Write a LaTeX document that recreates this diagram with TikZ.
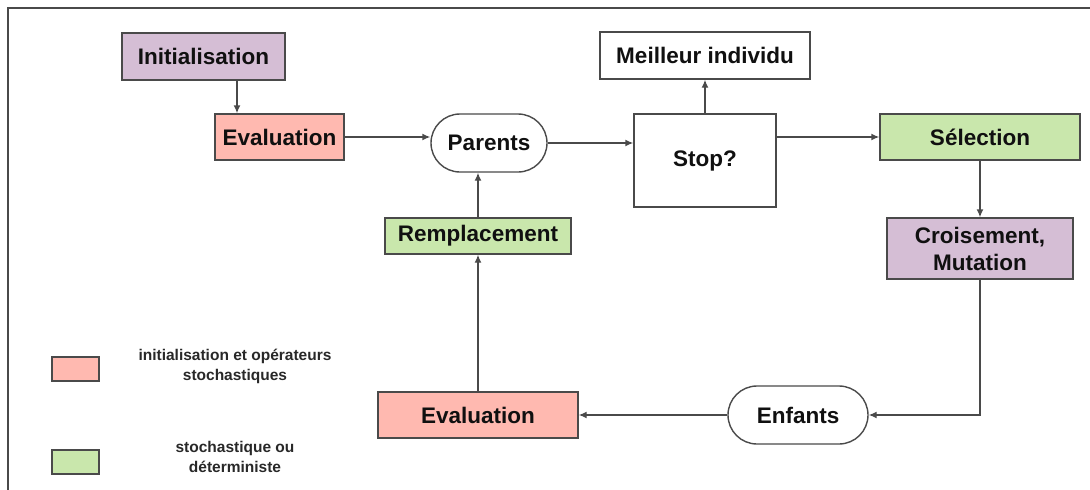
\documentclass[tikz,border=0pt]{standalone}
\usepackage{fontspec}
\setmainfont{Liberation Sans}
\usetikzlibrary{arrows.meta,shapes.misc}
\definecolor{lilac}{HTML}{D5BED5}
\definecolor{salmon}{HTML}{FFB9B0}
\definecolor{mint}{HTML}{C9E7AC}
\definecolor{edge}{HTML}{4A4A4A}
\definecolor{ink}{HTML}{101010}
\tikzset{
  box/.style={draw=edge, line width=1.4pt, rectangle, inner sep=0pt,
    text=ink, font=\fontsize{22.5}{27}\selectfont\bfseries, align=center},
  pill/.style={box, rounded rectangle},
  arr/.style={draw=edge, line width=1.4pt, -{Latex[length=8pt,width=7pt]}},
  legtext/.style={text=ink!90, font=\fontsize{15.5}{20}\selectfont\bfseries, align=center}
}
\begin{document}
\begin{tikzpicture}[x=1pt, y=-1pt]
\useasboundingbox (0,0) rectangle (1090,490);
% outer frame (top and left edges only)
\draw[edge, line width=1.2pt] (8,490) -- (8,8) -- (1090,8);

% main flow
\node[box, fill=lilac, minimum width=163pt, minimum height=47pt] (init) at (203.5,56.5) {Initialisation};
\node[box, fill=salmon, minimum width=129pt, minimum height=46pt] (evalA) at (279.5,137) {Evaluation};
\node[pill, fill=white, minimum width=116pt, minimum height=58pt] (parents) at (489,143) {Parents};
\node[box, fill=white, minimum width=142pt, minimum height=93pt] (stop) at (705,160.5) {Stop?};
\node[box, fill=white, minimum width=210pt, minimum height=47pt] (best) at (705,55.5) {Meilleur individu};
\node[box, fill=mint, minimum width=200pt, minimum height=46pt] (sel) at (980,137) {Sélection};
\node[box, fill=lilac, minimum width=186pt, minimum height=61pt] (cross) at (980,248.5) {Croisement,\\Mutation};
\node[pill, fill=white, minimum width=140pt, minimum height=58pt] (enf) at (798,415) {Enfants};
\node[box, fill=salmon, minimum width=200pt, minimum height=46pt] (evalB) at (478,415) {Evaluation};
\node[box, fill=mint, minimum width=186pt, minimum height=36pt] (repl) at (478,236) {Remplacement};

% legend
\node[box, fill=salmon, minimum width=47pt, minimum height=24pt] (leg1) at (75.5,369) {};
\node[box, fill=mint, minimum width=47pt, minimum height=24pt] (leg2) at (75.5,462) {};
\node[legtext] (leg1t) at (235,366) {initialisation et opérateurs\\stochastiques};
\node[legtext] (leg2t) at (235,457) {stochastique ou\\déterministe};

% connectors
\draw[arr] ([xshift=33.5pt]init.south) -- ([xshift=33.5pt]init.south |- evalA.north);
\draw[arr] (evalA.east) -- (parents.west |- evalA.east);
\draw[arr] (parents.east) -- (parents.east -| stop.west);
\draw[arr] (stop.north) -- (best.south);
\draw[arr] (stop.east |- sel.west) -- (sel.west);
\draw[arr] (sel.south) -- (cross.north);
\draw[arr] (cross.south) |- (enf.east);
\draw[arr] (enf.west) -- (evalB.east);
\draw[arr] (evalB.north) -- (repl.south);
\draw[arr] (repl.north) -- (repl.north |- parents.south);
\end{tikzpicture}
\end{document}
